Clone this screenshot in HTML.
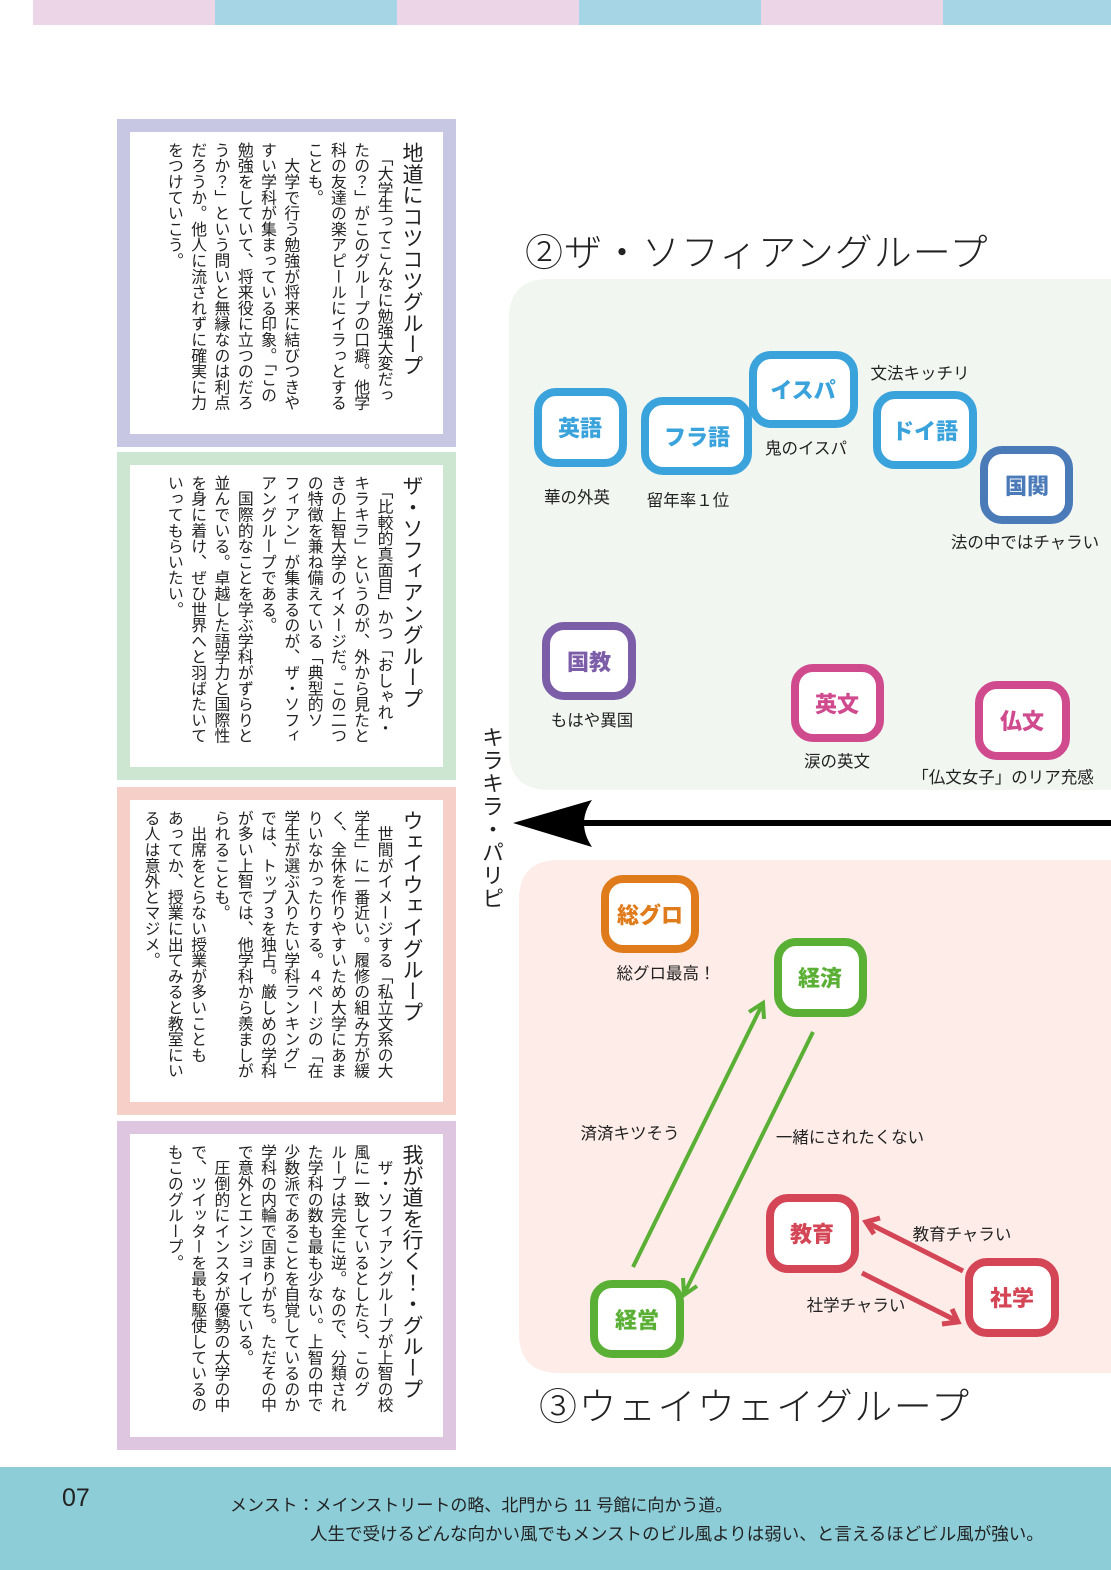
<!DOCTYPE html>
<html><head><meta charset="utf-8">
<style>
*{margin:0;padding:0;box-sizing:border-box}
body{width:1111px;height:1570px;position:relative;background:#fff;overflow:hidden;font-family:"Liberation Sans","Noto Sans CJK JP",sans-serif;color:#222}
.bar{position:absolute;top:0;height:25px;width:182px}
.panel{position:absolute;left:117px;width:339px;border:13px solid}
.vt{position:absolute;writing-mode:vertical-rl;left:8px;top:10px;width:290px;height:295px;white-space:nowrap;font-family:"Noto Sans CJK JP",sans-serif}
.vt h3{font-weight:400;font-size:21px;line-height:31px;letter-spacing:0.3px}
.vt p{font-size:15.8px;line-height:23.3px}
svg{position:absolute;left:0;top:0}
</style></head><body>
<div class="bar" style="left:33px;background:#ecd5e6"></div>
<div class="bar" style="left:215px;background:#a6d5e6"></div>
<div class="bar" style="left:397px;background:#ecd5e6"></div>
<div class="bar" style="left:579px;background:#a6d5e6"></div>
<div class="bar" style="left:761px;background:#ecd5e6"></div>
<div class="bar" style="left:943px;background:#a6d5e6;width:168px"></div>

<div class="panel" style="top:119px;height:328px;border-color:#c8c7e3">
<div class="vt"><h3>地道にコツコツグループ</h3><p>　「大学生ってこんなに勉強大変だっ<br>たの？」がこのグループの口癖。他学<br>科の友達の楽アピールにイラっとする<br>ことも。<br>　大学で行う勉強が将来に結びつきや<br>すい学科が集まっている印象。「この<br>勉強をしていて、将来役に立つのだろ<br>うか？」という問いと無縁なのは利点<br>だろうか。他人に流されずに確実に力<br>をつけていこう。</p></div>
</div>
<div class="panel" style="top:452px;height:328px;border-color:#cde6d2">
<div class="vt"><h3>ザ・ソフィアングループ</h3><p>　「比較的真面目」かつ「おしゃれ・<br>キラキラ」というのが、外から見たと<br>きの上智大学のイメージだ。この二つ<br>の特徴を兼ね備えている「典型的ソ<br>フィアン」が集まるのが、ザ・ソフィ<br>アングループである。<br>　国際的なことを学ぶ学科がずらりと<br>並んでいる。卓越した語学力と国際性<br>を身に着け、ぜひ世界へと羽ばたいて<br>いってもらいたい。</p></div>
</div>
<div class="panel" style="top:787px;height:328px;border-color:#f6d0c8">
<div class="vt"><h3>ウェイウェイグループ</h3><p>　世間がイメージする「私立文系の大<br>学生」に一番近い。履修の組み方が緩<br>く、全休を作りやすいため大学にあま<br>りいなかったりする。４ページの「在<br>学生が選ぶ入りたい学科ランキング」<br>では、トップ３を独占。厳しめの学科<br>が多い上智では、他学科から羨ましが<br>られることも。<br>　出席をとらない授業が多いことも<br>あってか、授業に出てみると教室にい<br>る人は意外とマジメ。</p></div>
</div>
<div class="panel" style="top:1121px;height:329px;border-color:#dec5e0">
<div class="vt"><h3>我が道を行く！・グループ</h3><p>　ザ・ソフィアングループが上智の校<br>風に一致しているとしたら、このグ<br>ループは完全に逆。なので、分類され<br>た学科の数も最も少ない。上智の中で<br>少数派であることを自覚しているのか<br>学科の内輪で固まりがち。ただその中<br>で意外とエンジョイしている。<br>　圧倒的にインスタが優勢の大学の中<br>で、ツイッターを最も駆使しているの<br>もこのグループ。</p></div>
</div>

<div style="position:absolute;left:480px;top:726px;writing-mode:vertical-rl;font-size:22px;line-height:26px;letter-spacing:1px;font-family:'Noto Sans CJK JP',sans-serif">キラキラ・パリピ</div>

<svg width="1111" height="1570" style="pointer-events:none">
<path d="M549 279 H1111 V790 H549 Q509 790 509 750 V319 Q509 279 549 279Z" fill="#f1f6f1"/>
<path d="M559 860 H1111 V1373 H559 Q519 1373 519 1333 V900 Q519 860 559 860Z" fill="#fdece8"/>
<text x="525" y="266" font-size="38" font-weight="300" font-family="Liberation Sans, Noto Sans CJK JP, sans-serif" fill="#222" letter-spacing="1">②ザ・ソフィアングループ</text>
<text x="539" y="1420" font-size="38" font-weight="300" font-family="Liberation Sans, Noto Sans CJK JP, sans-serif" fill="#222" letter-spacing="1.5">③ウェイウェイグループ</text>
<line x1="1111" y1="823" x2="575" y2="823" stroke="#000" stroke-width="6"/>
<path d="M513 823 L592 800 Q576 823 592 847 Z" fill="#000"/>
<g fill="#fff" stroke-width="8" font-family="Liberation Sans, Noto Sans CJK JP, sans-serif" font-weight="900" font-size="22" text-anchor="middle">
<g stroke="#3ba3dc" fill="#fff"><rect x="538" y="392" width="85" height="71" rx="18"/><rect x="645" y="401" width="103" height="70" rx="18"/><rect x="753" y="355" width="101" height="69" rx="18"/><rect x="877" y="395" width="96" height="70" rx="18"/></g>
<rect x="984" y="450" width="85" height="70" rx="18" stroke="#4a7ab8"/>
<rect x="546" y="626" width="86" height="70" rx="18" stroke="#7c5ea8"/>
<rect x="795" y="668" width="85" height="70" rx="18" stroke="#d04a8e"/>
<rect x="979" y="685" width="87" height="71" rx="18" stroke="#d04a8e"/>
<rect x="605" y="879" width="90" height="70" rx="18" stroke="#e07b1c"/>
<rect x="778" y="942" width="85" height="71" rx="18" stroke="#5aaf35"/>
<rect x="594" y="1284" width="86" height="70" rx="18" stroke="#5aaf35"/>
<rect x="770" y="1198" width="85" height="71" rx="18" stroke="#d44656"/>
<rect x="969" y="1262" width="86" height="71" rx="18" stroke="#d44656"/>
<g stroke="none">
<text x="580" y="436" fill="#3ba3dc">英語</text>
<text x="697" y="445" fill="#3ba3dc">フラ語</text>
<text x="803" y="398" fill="#3ba3dc">イスパ</text>
<text x="925" y="439" fill="#3ba3dc">ドイ語</text>
<text x="1027" y="494" fill="#4a7ab8">国関</text>
<text x="589" y="670" fill="#7c5ea8">国教</text>
<text x="837" y="712" fill="#d04a8e">英文</text>
<text x="1022" y="729" fill="#d04a8e">仏文</text>
<text x="650" y="923" fill="#e07b1c">総グロ</text>
<text x="820" y="986" fill="#5aaf35">経済</text>
<text x="637" y="1328" fill="#5aaf35">経営</text>
<text x="812" y="1242" fill="#d44656">教育</text>
<text x="1012" y="1306" fill="#d44656">社学</text>
</g></g>
<g font-family="Liberation Sans, Noto Sans CJK JP, sans-serif" font-size="16.5" fill="#222" text-anchor="middle">
<text x="577" y="503">華の外英</text>
<text x="688" y="506">留年率１位</text>
<text x="806" y="454">鬼のイスパ</text>
<text x="920" y="379">文法キッチリ</text>
<text x="1025" y="548">法の中ではチャラい</text>
<text x="592" y="726">もはや異国</text>
<text x="837" y="767">涙の英文</text>
<text x="1003" y="783">「仏文女子」のリア充感</text>
<text x="666" y="979">総グロ最高！</text>
<text x="630" y="1139">済済キツそう</text>
<text x="850" y="1143">一緒にされたくない</text>
<text x="962" y="1240">教育チャラい</text>
<text x="856" y="1311">社学チャラい</text>
</g>
<g fill="none" stroke-linecap="butt">
<line x1="633" y1="1267" x2="761" y2="1007" stroke="#5aaf35" stroke-width="4"/>
<polyline points="749,1012 763,1003 764,1019" stroke="#5aaf35" stroke-width="4"/>
<line x1="813" y1="1032" x2="685" y2="1292" stroke="#5aaf35" stroke-width="4"/>
<polyline points="683,1278 684,1295 697,1286" stroke="#5aaf35" stroke-width="4"/>
<line x1="963" y1="1271" x2="868" y2="1223" stroke="#d44656" stroke-width="5"/>
<polyline points="874,1234 866,1222 880,1218" stroke="#d44656" stroke-width="5"/>
<line x1="862" y1="1273" x2="957" y2="1321" stroke="#d44656" stroke-width="5"/>
<polyline points="942,1324 958,1322 952,1309" stroke="#d44656" stroke-width="5"/>
</g>
</svg>

<div style="position:absolute;left:0;top:1467px;width:1111px;height:103px;background:#8dcdd8"></div>
<div style="position:absolute;left:62px;top:1484px;font-size:25px;color:#222">07</div>
<div style="position:absolute;left:230px;top:1491px;font-size:17px;color:#222;white-space:nowrap">メンスト：メインストリートの略、北門から 11 号館に向かう道。</div>
<div style="position:absolute;left:310px;top:1521px;font-size:17.5px;color:#222;white-space:nowrap">人生で受けるどんな向かい風でもメンストのビル風よりは弱い、と言えるほどビル風が強い。</div>
</body></html>
